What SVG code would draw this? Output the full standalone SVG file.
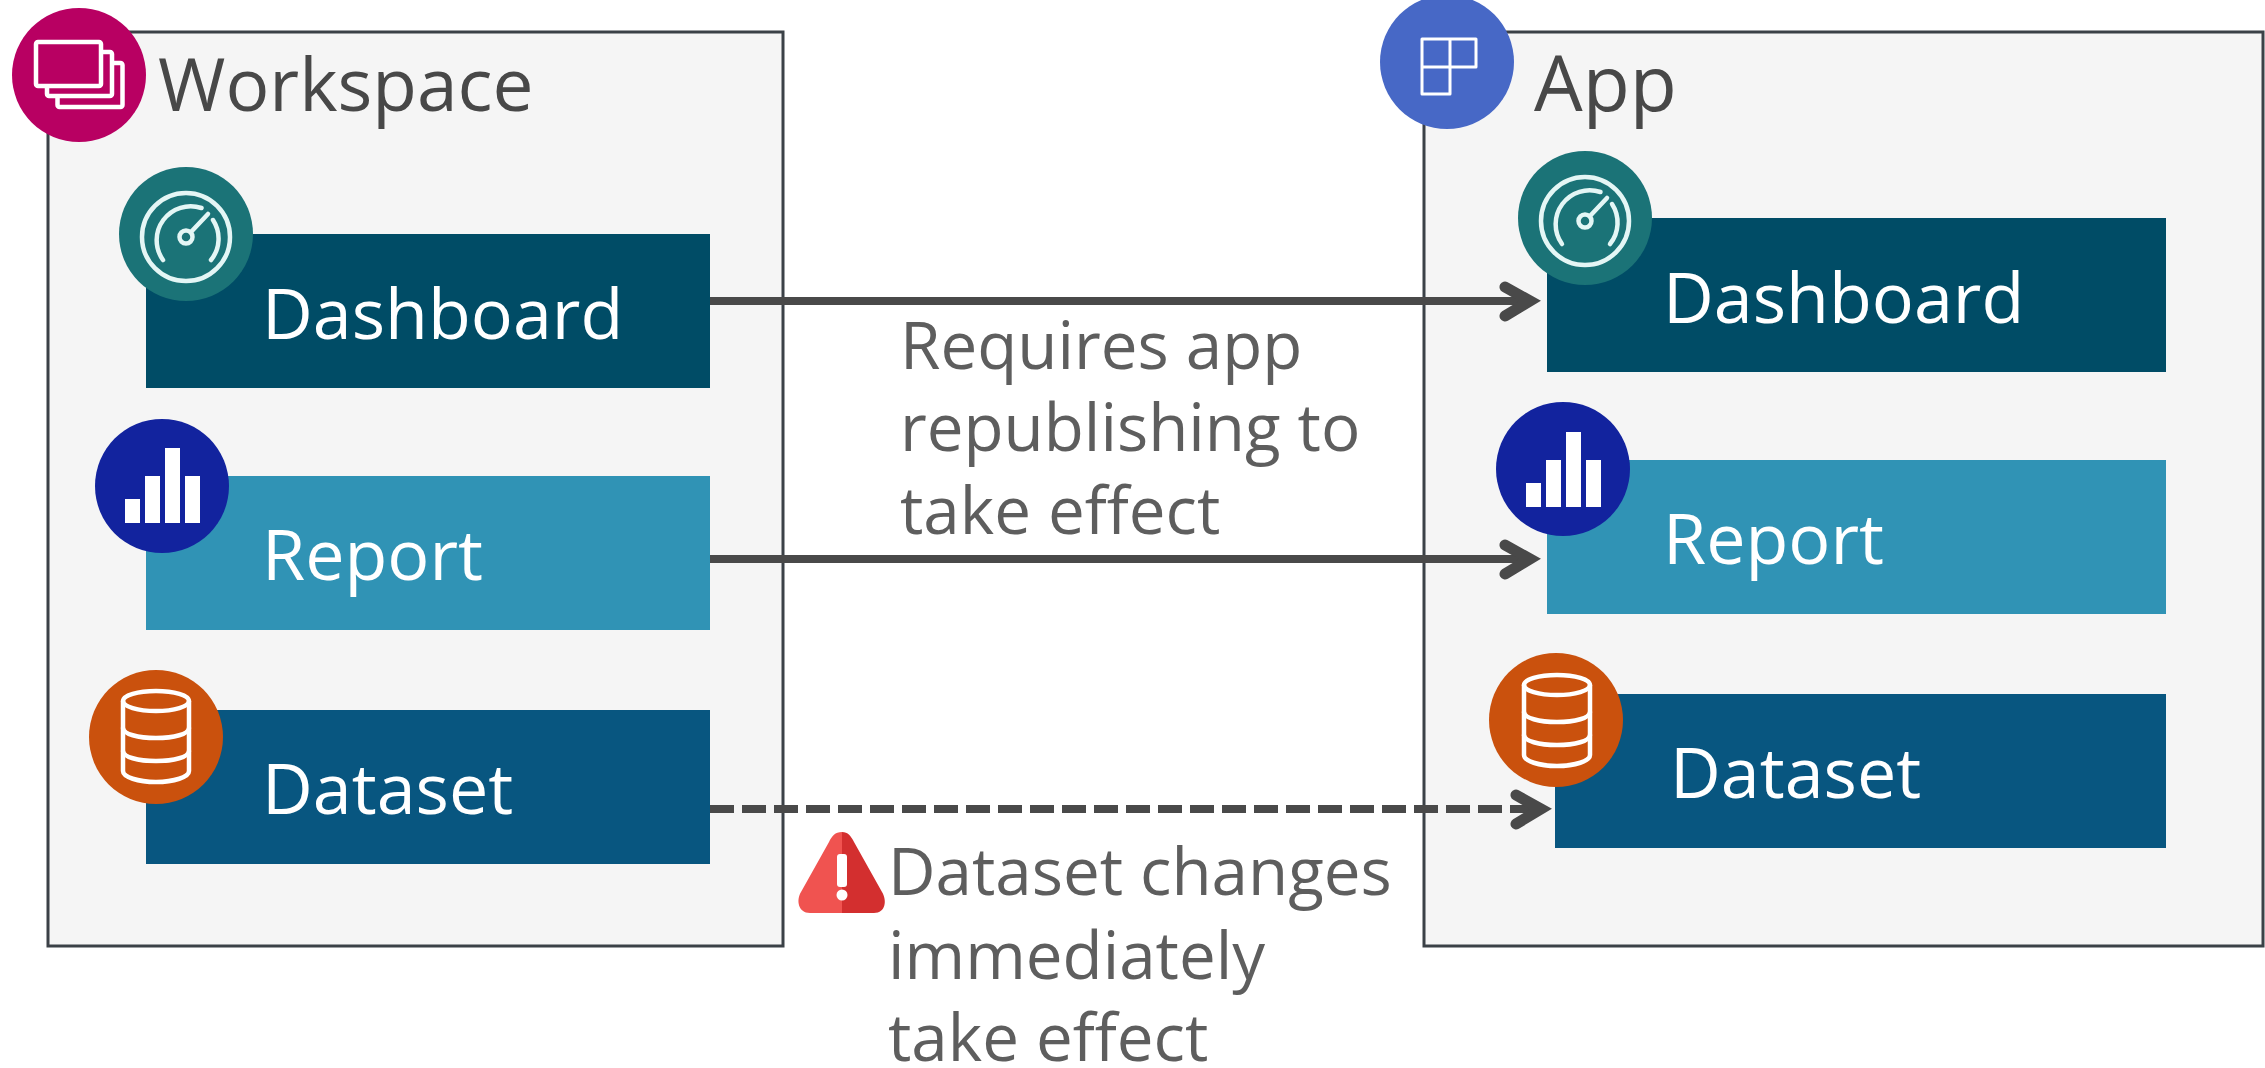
<svg xmlns="http://www.w3.org/2000/svg" width="2265" height="1068" viewBox="0 0 2265 1068">
<style>
.box{fill:#f5f5f5;stroke:#3b4147;stroke-width:3}
text{font-family:"Open Sans","Noto Sans","Liberation Sans",sans-serif}
.title{font-size:73px;fill:#484848}
.lbl{font-size:70px;fill:#fff}
.note{font-size:65.500px;fill:#5e5e5e}
.ic{fill:none;stroke:#fff;stroke-width:4.500;stroke-linejoin:round;stroke-linecap:round}
.conn{fill:none;stroke:#494949;stroke-width:8}
.head{fill:none;stroke:#494949;stroke-width:11;stroke-linecap:round;stroke-linejoin:miter}
</style>
<defs>
<g id="gauge" class="ic" style="stroke:#e4f6f5">
<circle cx="0" cy="2" r="44"/>
<path d="M-23 25A34 34 0 0 1 15.500 -27"/>
<path d="M27 -15A34 34 0 0 1 25 25"/>
<circle cx="0" cy="2" r="6.500"/>
<path d="M5 -3L22 -21"/>
</g>
<g id="bars" fill="#fff">
<rect x="-37" y="13" width="15" height="24"/><rect x="-17" y="-10" width="15" height="47"/><rect x="3" y="-38" width="15" height="75"/><rect x="23" y="-10" width="15" height="47"/>
</g>
<g id="db" class="ic">
<ellipse cx="0" cy="-36" rx="33" ry="10"/>
<path d="M-33 -36V34C-33 40 -18 45 0 45S33 40 33 34V-36"/>
<path d="M-33 -9C-33 -3 -18 1 0 1S33 -3 33 -9"/>
<path d="M-33 14C-33 20 -18 24 0 24S33 20 33 14"/>
</g>
</defs>
<g id="workspace">
<rect class="box" x="48" y="32" width="735" height="914"/>
<circle cx="79" cy="75" r="67" fill="#b80062"/>
<g class="ic">
<rect x="57.500" y="63" width="65" height="44" rx="2"/>
<rect x="47" y="52" width="65" height="44" rx="2" fill="#b80062"/>
<rect x="36" y="42" width="65" height="44" rx="2" fill="#b80062"/>
</g>
<text class="title" x="158" y="111">Workspace</text>
</g>
<g id="app">
<rect class="box" x="1424" y="32" width="839" height="914"/>
<circle cx="1447" cy="62" r="67" fill="#4768c6"/>
<path class="ic" style="stroke-width:3" d="M1422 39H1476V67H1422M1450 39V94H1422V39"/>
<text class="title" x="1534" y="111" style="font-size:77px">App</text>
</g>
<g id="connectors">
<path class="conn" d="M710 301H1530"/>
<path class="conn" d="M710 559H1530"/>
<path class="conn" stroke-dasharray="24 8" d="M710 809H1541"/>
</g>
<g id="ws-dashboard">
<rect x="146" y="234" width="564" height="154" fill="#004c66"/>
<circle cx="186" cy="234" r="67" fill="#1b7377"/>
<use href="#gauge" x="186" y="235"/>
<text class="lbl" x="262" y="339">Dashboard</text>
</g>
<g id="ws-report">
<rect x="146" y="476" width="564" height="154" fill="#3093b5"/>
<circle cx="162" cy="486" r="67" fill="#12239e"/>
<use href="#bars" x="162" y="486"/>
<text class="lbl" x="262" y="580">Report</text>
</g>
<g id="ws-dataset">
<rect x="146" y="710" width="564" height="154" fill="#085680"/>
<circle cx="156" cy="737" r="67" fill="#ca510d"/>
<use href="#db" x="156" y="737"/>
<text class="lbl" x="262" y="814">Dataset</text>
</g>
<g id="app-dashboard">
<rect x="1547" y="218" width="619" height="154" fill="#004c66"/>
<circle cx="1585" cy="218" r="67" fill="#1b7377"/>
<use href="#gauge" x="1585" y="219"/>
<text class="lbl" x="1663" y="323">Dashboard</text>
</g>
<g id="app-report">
<rect x="1547" y="460" width="619" height="154" fill="#3093b5"/>
<circle cx="1563" cy="469" r="67" fill="#12239e"/>
<use href="#bars" x="1563" y="470"/>
<text class="lbl" x="1663" y="564">Report</text>
</g>
<g id="app-dataset">
<rect x="1555" y="694" width="611" height="154" fill="#085680"/>
<circle cx="1556" cy="720" r="67" fill="#ca510d"/>
<use href="#db" x="1557" y="721"/>
<text class="lbl" x="1670" y="798">Dataset</text>
</g>
<g id="arrowheads">
<path class="head" d="M1505 287L1530 301L1505 316"/>
<path class="head" d="M1505 545L1530 559L1505 574"/>
<path class="head" d="M1516 795L1541 809L1516 824"/>
</g>
<g id="note-republish">
<text class="note" x="900" y="369">Requires app</text>
<text class="note" x="900" y="451">republishing to</text>
<text class="note" x="900" y="534">take effect</text>
</g>
<g id="note-dataset">
<path d="M842 832C835 832 832 836 829 842L801 892C796 900 798 913 810 913H842Z" fill="#f05350"/>
<path d="M842 832C848 832 851 836 854 842L882 892C887 900 886 913 874 913H842Z" fill="#d32f2f"/>
<rect x="837" y="854" width="10" height="33" rx="3" fill="#fff"/>
<circle cx="842" cy="895" r="5.500" fill="#fff"/>
<text class="note" x="888" y="895">Dataset changes</text>
<text class="note" x="888" y="979">immediately</text>
<text class="note" x="888" y="1061">take effect</text>
</g>
</svg>
